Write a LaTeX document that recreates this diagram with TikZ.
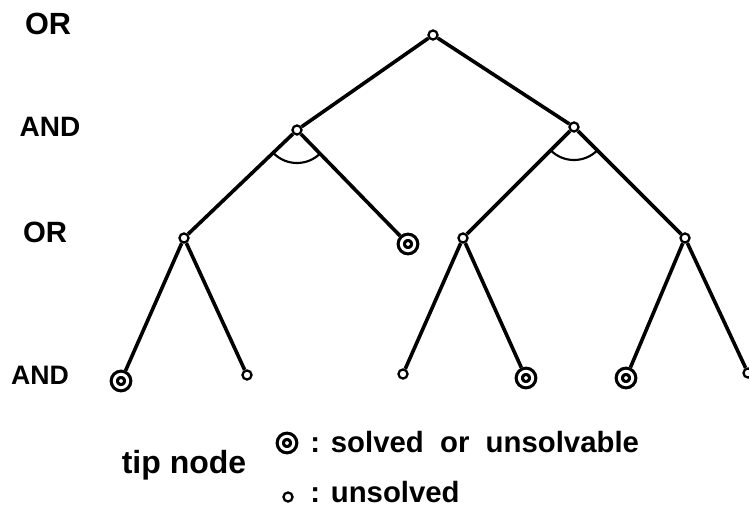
\documentclass[tikz,border=0pt]{standalone}
\usepackage{fontspec}
\setmainfont{Liberation Sans}
\begin{document}
\begin{tikzpicture}[x=0.75pt,y=0.75pt,yscale=-1,xscale=1,
    edge/.style={line width=2.7pt},
    opennode/.style={circle,draw,fill=white,line width=1.7pt,inner sep=0pt,minimum size=6.8pt},
    tipnode/.style={circle,draw,line width=2.4pt,double=white,double distance=2.2pt,inner sep=0pt,minimum size=10pt,outer sep=3.5pt},
    level/.style={font=\bfseries\fontsize{21}{24}\selectfont,inner sep=0pt},
    keytext/.style={font=\bfseries\fontsize{22}{26}\selectfont,inner sep=0pt,anchor=west}]
    \useasboundingbox (0,0) rectangle (749,507);

    % nodes of the tree
    \node[opennode] (root) at (433,35) {};
    \node[opennode] (andL) at (297,130) {};
    \node[opennode] (andR) at (574,127) {};
    \node[opennode] (orA) at (184,238) {};
    \node[tipnode] (orB) at (408,244) {};
    \node[opennode] (orC) at (463,238) {};
    \node[opennode] (orD) at (685,238) {};
    \node[tipnode] (tipA) at (121,381) {};
    \node[opennode] (tipB) at (247,375) {};
    \node[opennode] (tipC) at (403,374) {};
    \node[tipnode] (tipD) at (526,378) {};
    \node[tipnode] (tipE) at (626,378) {};
    \node[opennode] (tipF) at (748,373) {};

    % branches
    \foreach \a/\b in {root/andL, root/andR, andL/orA, andL/orB, andR/orC, andR/orD,
                       orA/tipA, orA/tipB, orC/tipC, orC/tipD, orD/tipE, orD/tipF}
        \draw[edge] (\a) -- (\b);

    % AND arcs
    \draw[line width=1.6pt] (andL.center) ++(46:33) arc[start angle=46, end angle=136, radius=33];
    \draw[line width=1.6pt] (andR.center) ++(45:33) arc[start angle=45, end angle=135, radius=33];

    % level labels
    \node[level,font=\bfseries\fontsize{23}{26}\selectfont] (lvlA) at (48,24) {OR};
    \node[level] (lvlB) at (50,127) {AND};
    \node[level,font=\bfseries\fontsize{22}{26}\selectfont] (lvlC) at (45,232) {OR};
    \node[level,font=\bfseries\fontsize{20}{24}\selectfont] (lvlD) at (40,375) {AND};

    % legend
    \node[level,font=\bfseries\fontsize{24}{28}\selectfont] (tip) at (184,465) {tip node};
    \node[tipnode] (keyS) at (287,443) {};
    \node[keytext] (txtS) at (310,442) {: solved\ \ or\ \ unsolvable};
    \node[opennode] (keyU) at (288,497) {};
    \node[keytext] (txtU) at (310,492) {: unsolved};
\end{tikzpicture}
\end{document}
